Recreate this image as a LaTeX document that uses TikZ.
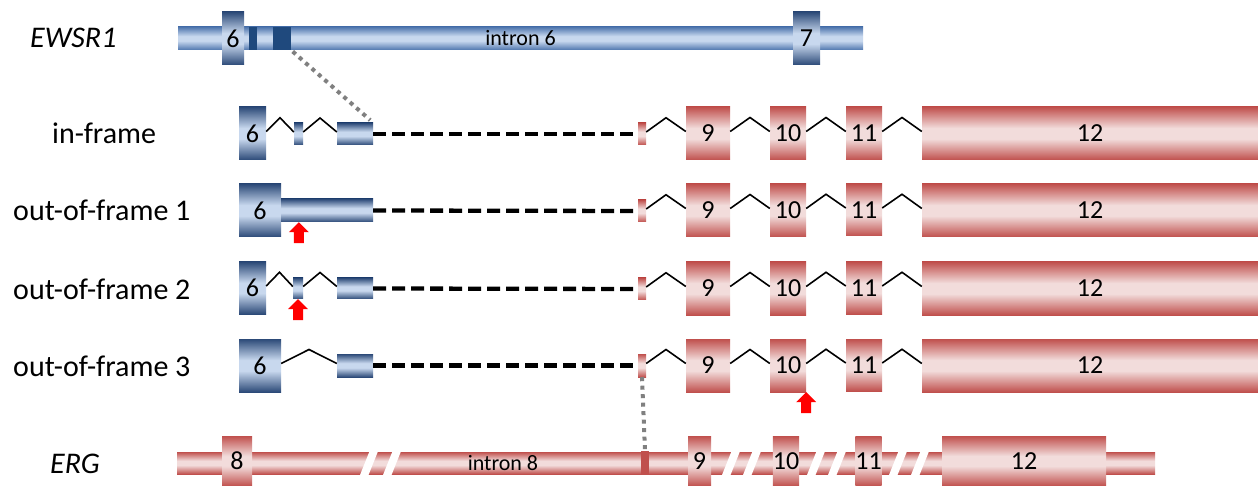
\documentclass[tikz,border=0pt]{standalone}
\usepackage{fontspec}
\setmainfont{Carlito}
\usetikzlibrary{calc}

\definecolor{bluedark}{HTML}{2C4A78}
\definecolor{bluemid}{HTML}{4F76AE}
\definecolor{bluelight}{HTML}{C8D8EE}
\definecolor{reddark}{HTML}{C0504D}
\definecolor{redlight}{HTML}{F2DCDB}
\definecolor{blueblock}{HTML}{1F497D}
\definecolor{dotgrey}{HTML}{808080}
\definecolor{arrowred}{HTML}{FF0000}

% symmetric top-to-bottom gradients: dark rims, light core
\pgfdeclareverticalshading{blueexon}{100bp}{color(0bp)=(bluedark); color(25bp)=(bluedark); color(45bp)=(bluelight); color(55bp)=(bluelight); color(75bp)=(bluedark); color(100bp)=(bluedark)}
\pgfdeclareverticalshading{bluebar}{100bp}{color(0bp)=(bluemid); color(25bp)=(bluemid); color(45bp)=(bluelight); color(55bp)=(bluelight); color(75bp)=(bluemid); color(100bp)=(bluemid)}
\pgfdeclareverticalshading{redexon}{100bp}{color(0bp)=(reddark); color(25bp)=(reddark); color(45bp)=(redlight); color(55bp)=(redlight); color(75bp)=(reddark); color(100bp)=(reddark)}

\tikzset{
  exonB/.style={shade, shading=blueexon, inner sep=0pt, font=\fontsize{26}{26}\selectfont},
  barB/.style={shade, shading=bluebar, inner sep=0pt, font=\fontsize{22}{22}\selectfont},
  exonR/.style={shade, shading=redexon, inner sep=0pt, font=\fontsize{26}{26}\selectfont},
  blockB/.style={fill=blueblock, inner sep=0pt},
  blockR/.style={fill=reddark, inner sep=0pt},
  introncon/.style={draw=black, line width=1.6pt, line join=miter},
  junction/.style={draw=black, line width=4.3pt, dash pattern=on 13pt off 6pt},
  mapline/.style={draw=dotgrey, line width=4pt, dash pattern=on 4pt off 4.5pt},
  rowlabel/.style={anchor=base west, inner sep=0pt, font=\fontsize{30}{30}\selectfont},
  breakmark/.style={fill=white, draw=none},
  mutation/.style={fill=arrowred, draw=none}
}

% box node from its pixel corners: name, x1, y1, x2, y2, style, text
\newcommand\gbox[7]{\node[#6, minimum width={(#4-#2)*1pt}, minimum height={(#5-#3)*1pt}] (#1) at ({(#2+#4)/2},{(#3+#5)/2}) {#7};}
% splice connector between two exons
\newcommand\splice[2]{\draw[introncon] ([yshift=2pt]#1.east) -- ($(#1.east)!.5!(#2.west)+(0,-16)$) -- ([yshift=2pt]#2.west);}
% upward block arrow whose tip sits at the given point
\newcommand\mutarrow[1]{\fill[mutation] #1 -- ++(10,10) -- ++(-5,0) -- ++(0,11) -- ++(-10,0) -- ++(0,-11) -- ++(-5,0) -- cycle;}
% slanted white gap across the ERG backbone, from the top-left x
\newcommand\gap[1]{\fill[breakmark] (#1,450) -- ++(8.5,0) -- ++(-10,25) -- ++(-8.5,0) -- cycle;}

\begin{document}
\begin{tikzpicture}[x=1pt,y=-1pt]
\useasboundingbox (0,0) rectangle (1258,486);

% ---------- EWSR1 genomic locus ----------
\node[rowlabel, font=\fontsize{30}{30}\selectfont\itshape] (lew) at (30,48) {EWSR1};
\gbox{ew}{178}{27}{863}{50}{barB}{intron 6}
\gbox{ew6}{222}{12}{244}{65}{exonB}{6}
\gbox{ewa}{249}{27}{257}{50}{blockB}{}
\gbox{ewb}{273}{27}{291}{50}{blockB}{}
\gbox{ew7}{793}{12}{820}{65}{exonB}{7}

% ---------- in-frame ----------
\node[rowlabel] (la) at (52,144) {in-frame};
\gbox{a6}{239}{107}{266}{160}{exonB}{6}
\gbox{ab}{294}{123}{303}{145}{exonB}{}
\gbox{ac}{337}{123}{373}{145}{exonB}{}
\gbox{ar}{638}{123}{646}{145}{exonR}{}
\gbox{a9}{686}{107}{730}{160}{exonR}{9}
\gbox{a10}{770}{107}{806}{160}{exonR}{10}
\gbox{a11}{846}{107}{882}{160}{exonR}{11}
\gbox{a12}{922}{107}{1258}{160}{exonR}{12}
\splice{a6}{ab}\splice{ab}{ac}
\splice{ar}{a9}\splice{a9}{a10}\splice{a10}{a11}\splice{a11}{a12}
\draw[junction] (ac.east) -- (ar.west);

% ---------- out-of-frame 1 ----------
\node[rowlabel] (lb) at (13,221) {out-of-frame 1};
\gbox{b6}{239}{184}{281}{237}{exonB}{6}
\gbox{bbar}{281}{199}{373}{222}{exonB}{}
\gbox{br}{638}{200}{646}{222}{exonR}{}
\gbox{b9}{686}{184}{730}{237}{exonR}{9}
\gbox{b10}{770}{184}{806}{237}{exonR}{10}
\gbox{b11}{846}{184}{882}{236}{exonR}{11}
\gbox{b12}{922}{184}{1258}{237}{exonR}{12}
\splice{br}{b9}\splice{b9}{b10}\splice{b10}{b11}\splice{b11}{b12}
\draw[junction] (bbar.east) -- (br.west);
\mutarrow{($(bbar.south west)+(18,0)$)}

% ---------- out-of-frame 2 ----------
\node[rowlabel] (lc) at (13,299) {out-of-frame 2};
\gbox{c6}{239}{262}{266}{314}{exonB}{6}
\gbox{cb}{293}{278}{303}{299}{exonB}{}
\gbox{cc}{337}{278}{373}{299}{exonB}{}
\gbox{cr}{638}{278}{646}{300}{exonR}{}
\gbox{c9}{686}{262}{730}{315}{exonR}{9}
\gbox{c10}{770}{262}{806}{315}{exonR}{10}
\gbox{c11}{846}{262}{882}{314}{exonR}{11}
\gbox{c12}{922}{262}{1258}{315}{exonR}{12}
\splice{c6}{cb}\splice{cb}{cc}
\splice{cr}{c9}\splice{c9}{c10}\splice{c10}{c11}\splice{c11}{c12}
\draw[junction] (cc.east) -- (cr.west);
\mutarrow{(cb.south)}

% ---------- out-of-frame 3 ----------
\node[rowlabel] (ld) at (13,376) {out-of-frame 3};
\gbox{d6}{239}{339}{281}{392}{exonB}{6}
\gbox{dc}{337}{354}{373}{377}{exonB}{}
\gbox{dr}{638}{354}{646}{377}{exonR}{}
\gbox{d9}{686}{339}{730}{392}{exonR}{9}
\gbox{d10}{770}{339}{806}{392}{exonR}{10}
\gbox{d11}{846}{339}{882}{391}{exonR}{11}
\gbox{d12}{922}{339}{1258}{392}{exonR}{12}
\splice{d6}{dc}
\splice{dr}{d9}\splice{d9}{d10}\splice{d10}{d11}\splice{d11}{d12}
\draw[junction] (dc.east) -- (dr.west);
\mutarrow{(d10.south east)}

% ---------- ERG genomic locus ----------
\node[rowlabel, font=\fontsize{30}{30}\selectfont\itshape] (lerg) at (50,473) {ERG};
\gbox{erg}{177}{452}{1155}{474}{exonR}{}
\gap{370}\gap{393}
\gap{732}\gap{753}
\gap{817}\gap{838}
\gap{899}\gap{921}
\gbox{g8}{222}{436}{252}{486}{exonR}{8}
\gbox{gm}{641}{451}{649}{474}{blockR}{}
\gbox{g9}{688}{436}{711}{486}{exonR}{9}
\gbox{g10}{777}{436}{795}{486}{exonR}{10}
\gbox{g11}{861}{436}{876}{486}{exonR}{11}
\gbox{g12}{942}{436}{1106}{486}{exonR}{12}
\node[font=\fontsize{22}{22}\selectfont, inner sep=0pt] (gi8) at (503,463) {intron 8};

% ---------- breakpoint mapping ----------
\draw[mapline, shorten <=2pt, shorten >=4pt] (ewb.south east) -- (ac.north east);
\draw[mapline] (dr.south) -- (gm.north);
\end{tikzpicture}
\end{document}
